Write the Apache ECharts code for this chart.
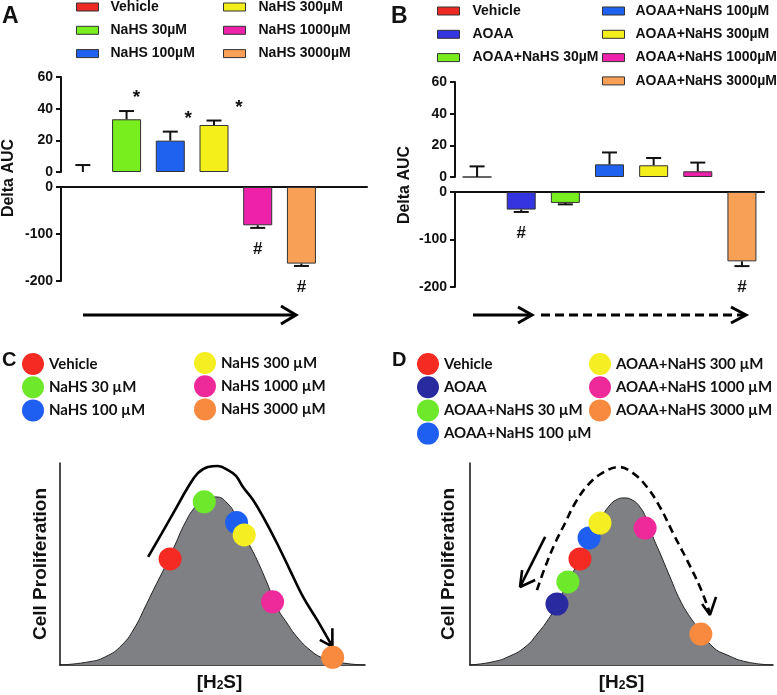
<!DOCTYPE html>
<html><head><meta charset="utf-8">
<script src="https://cdn.jsdelivr.net/npm/echarts@6/dist/echarts.min.js"></script>
<style>html,body{margin:0;padding:0;background:#fff}#c{width:777px;height:695px}</style>
</head><body><div id="c"></div>
<script>
// ---------- Panel A data ----------
const aGroups = ['Vehicle','NaHS 30µM','NaHS 100µM','NaHS 300µM','NaHS 1000µM','NaHS 3000µM'];
const aMeans  = [0, 33.3, 19.8, 29.7, -81.5, -163];
const aErrors = [4.4, 5.2, 5.7, 2.8, 5.5, 5];
const aMarks  = ['', '*', '*', '*', '#', '#'];
// ---------- Panel B data ----------
const bGroups = ['Vehicle','AOAA','AOAA+NaHS 30µM','AOAA+NaHS 100µM','AOAA+NaHS 300µM','AOAA+NaHS 1000µM','AOAA+NaHS 3000µM'];
const bMeans  = [0, -37, -23, 8, 7.4, 3.6, -146];
const bErrors = [6.7, 5, 3, 7.5, 4.6, 5.5, 10];
const bMarks  = ['', '#', '', '', '', '', '#'];
// axis ranges [min, max, interval]
const upperRange = [0, 60, 20];
const lowerRange = [-200, 0, 100];
// ---------- Panel C data ----------
const cGroups = ['Vehicle','NaHS 30 µM','NaHS 100 µM','NaHS 300 µM','NaHS 1000 µM','NaHS 3000 µM'];
const cCurve = [[0,0],[9.2,1.5],[14.8,4.0],[20.3,9.9],[24.6,18.8],[27.9,28.7],[31.1,38.6],[34.4,48.5],[37.7,59.4],[41.0,70.3],[44.3,78.2],[47.5,82.2],[51.1,83.2],[54.8,80.2],[58.0,72.8],[61.3,61.9],[64.6,52.0],[67.9,40.6],[71.1,28.7],[74.4,20.8],[77.7,13.9],[82.0,7.4],[86.2,3.5],[92.8,1.0],[100,0]];
const cDots = [[36.1,52.5],[47.3,80.8],[57.9,70.5],[60.4,64.4],[69.7,31.3],[89.4,3.8]];
const cArrow = [[28.9,53.5],[33.4,65.3],[37.7,76.7],[42.0,88.1],[45.2,95.0],[48.5,98.0],[51.8,98.5],[55.1,96.5],[57.7,93.6],[60.0,88.1],[63.3,81.7],[66.6,73.3],[71.1,60.4],[75.4,47.0],[79.7,33.7],[84.3,22.3],[89.2,9.4]];
const cArrowHead = [[89.3,18.2],[89.3,9.1],[85.2,12.4]];
// ---------- Panel D data ----------
const dGroups = ['Vehicle','AOAA','AOAA+NaHS 30 µM','AOAA+NaHS 100 µM','AOAA+NaHS 300 µM','AOAA+NaHS 1000 µM','AOAA+NaHS 3000 µM'];
const dCurve = [[0,0],[7.3,1.5],[12.5,4.0],[18.2,8.9],[22.4,15.8],[25.7,22.3],[28.1,28.2],[31.4,38.1],[34.7,48.0],[38.0,57.9],[41.3,66.8],[43.9,74.3],[46.2,79.2],[48.2,81.7],[50.8,82.7],[53.5,81.7],[56.1,78.2],[58.4,71.8],[60.4,63.4],[62.7,55.4],[66.0,43.6],[69.3,32.2],[72.6,23.8],[75.9,17.3],[80.2,8.9],[84.8,5.0],[91.4,1.5],[100,0]];
const dDots = [[36.3,52.5],[28.7,30.2],[32.3,41.1],[39.3,62.9],[42.9,70.3],[57.8,67.8],[76.2,15.3]];
const dArrow = [[22.1,37.1],[24.8,48.5],[28.1,60.4],[31.4,70.3],[34.7,80.2],[38.9,89.1],[43.6,95.0],[49.2,98.0],[53.8,95.0],[58.4,88.1],[62.7,78.2],[67.0,65.3],[71.6,52.0],[75.9,38.6],[79.2,25.7]];
const dArrowHead = [[76.6,30.2],[79.2,24.8],[81.2,33.7]];
const dBackArrow = [[24.8,63.4],[16.5,38.6]];
const dBackHead = [[17.2,47.0],[16.5,38.6],[21.5,42.1]];

// ---------- styles ----------
const aColors = ['#ee2a24','#78ee1e','#2062f0','#f4ee1a','#ee22aa','#f8a055'];
const bColors = ['#ee2a24','#3434e0','#78ee1e','#2062f0','#f4ee1a','#ee22aa','#f8a055'];
const cColors = ['#f52a22','#6ee82a','#1e5ef0','#f5ee22','#ee2a9a','#f88a40'];
const dColors = ['#f52a22','#2a2aa0','#6ee82a','#1e5ef0','#f5ee22','#ee2a9a','#f88a40'];
const aMarkShift = [0, 10, 18, 25, 0, 0];
const bMarkShift = [0, 0, 0, 0, 0, 0, 0];
const ARIAL = 'Liberation Sans, Arial, sans-serif';
const BOLD = {fontFamily: ARIAL, fontWeight: 'bold', color: '#111'};
const INK = '#111';

const chart = echarts.init(document.getElementById('c'));

function catAxis(gi, cats, show) {
  return {type:'category', gridIndex:gi, data:cats, show:show,
    axisLine:{show:true, onZero:true, lineStyle:{color:INK, width:2}},
    axisTick:{show:false}, axisLabel:{show:false}, splitLine:{show:false}};
}
function valAxis(gi, r) {
  return {type:'value', gridIndex:gi, min:r[0], max:r[1], interval:r[2],
    axisLine:{show:true, lineStyle:{color:INK, width:2}},
    axisTick:{show:true, length:5, lineStyle:{color:INK, width:2}},
    axisLabel:Object.assign({}, BOLD, {fontSize:14, margin:8}),
    splitLine:{show:false}};
}
function plainAxis(gi, extra) {
  return Object.assign({type:'value', gridIndex:gi, min:0, max:100,
    axisLine:{show:true, onZero:true, lineStyle:{color:INK, width:1.5}},
    axisTick:{show:false}, axisLabel:{show:false}, splitLine:{show:false}}, extra);
}
function bars(groups, means, colors, ax, upper, zeroBar) {
  return groups.map((g, i) => {
    const m = means[i];
    const inUpper = m > 0 || (m === 0 && zeroBar);
    const keep = upper ? inUpper : m < 0;
    return {type:'bar', name:g, xAxisIndex:ax, yAxisIndex:ax, silent:true,
      data: groups.map((_, j) => (j === i && keep) ? m : '-'),
      barWidth:29, barGap:'-100%', z:2,
      itemStyle:{color:colors[i], borderColor:'#333', borderWidth: m === 0 ? 1.5 : 1}};
  });
}
function errBars(means, errs, ax, upper) {
  const data = means.map((m, i) => [i, m, errs[i]]).filter(d => upper ? d[1] >= 0 : d[1] < 0);
  return {type:'custom', xAxisIndex:ax, yAxisIndex:ax, data, encode:{x:0, y:1}, z:3, silent:true,
    renderItem:(p, api) => {
      const i = api.value(0), m = api.value(1), e = api.value(2);
      const dir = m >= 0 ? 1 : -1;
      const p0 = api.coord([i, m]), p1 = api.coord([i, m + dir * e]);
      const hw = 7.5, st = {stroke:INK, lineWidth:2};
      return {type:'group', children:[
        {type:'line', shape:{x1:p0[0], y1:p0[1], x2:p1[0], y2:p1[1]}, style:st},
        {type:'line', shape:{x1:p1[0]-hw, y1:p1[1], x2:p1[0]+hw, y2:p1[1]}, style:st}]};
    }};
}
function marks(means, errs, symbols, shifts, ax, upper) {
  const data = means.map((m, i) => [i, m, errs[i]])
    .filter(d => symbols[d[0]] !== '' && (upper ? d[1] >= 0 : d[1] < 0));
  return {type:'custom', xAxisIndex:ax, yAxisIndex:ax, data, encode:{x:0, y:1}, z:4, silent:true,
    renderItem:(p, api) => {
      const i = api.value(0), m = api.value(1), e = api.value(2);
      const dir = m >= 0 ? 1 : -1;
      const pt = api.coord([i, m + dir * e]);
      const s = symbols[i];
      const star = s === '*';
      return {type:'text', x:pt[0] + shifts[i], y:pt[1] + (star ? -13 : 21),
        style:{text:s, fill:INK, fontFamily:ARIAL, fontWeight:'bold', fontSize: star ? 19 : 17,
          align:'center', verticalAlign:'middle'}};
    }};
}
function dots(groups, pts, colors, ax) {
  return groups.map((g, i) => ({type:'scatter', name:g, xAxisIndex:ax, yAxisIndex:ax, silent:true,
    data:[pts[i]], symbolSize:23, z:5, itemStyle:{color:colors[i], opacity:1}}));
}
function path(data, ax, opts) {
  return Object.assign({type:'line', xAxisIndex:ax, yAxisIndex:ax, data, symbol:'none', silent:true,
    z:3, lineStyle:{color:'#000', width:2.6}}, opts || {});
}
function legendItems(names, groups, colors, icon) {
  return names.map(n => {
    const i = groups.indexOf(n);
    return icon === 'rect'
      ? {name:n, icon:'rect', itemStyle:{color:colors[i], borderColor:'#333', borderWidth:1}}
      : {name:n, icon:'circle', itemStyle:{color:colors[i], borderWidth:0, opacity:1}};
  });
}
const barLegendText = pad => Object.assign({}, BOLD, {fontSize:14, lineHeight:14, padding:[0,0,0,pad]});
const dotLegendText = {fontFamily:'Lato, Open Sans, sans-serif', fontWeight:'bold', fontSize:15, color:'#111', lineHeight:16};
function barLegend(names, groups, colors, left, top, pad) {
  return {left, top, padding:0, orient:'vertical', selectedMode:false, itemWidth:22, itemHeight:8, itemGap:9.3,
    textStyle:barLegendText(pad), data:legendItems(names, groups, colors, 'rect')};
}
function dotLegend(names, groups, colors, left, top) {
  return {left, top, padding:0, orient:'vertical', selectedMode:false, itemWidth:22, itemHeight:22, itemGap:1.2,
    textStyle:dotLegendText, data:legendItems(names, groups, colors, 'circle')};
}

const aCats = aGroups.concat(['']);
const h2s = {rich:{
  a:{fontFamily:ARIAL, fontWeight:'bold', fontSize:19, color:INK, lineHeight:19},
  s:{fontFamily:ARIAL, fontWeight:'bold', fontSize:12, color:INK, lineHeight:12, verticalAlign:'bottom'}}};
const cellName = {fontFamily:ARIAL, fontWeight:'bold', fontSize:19, color:INK};
const curveStyle = {smooth:0.5, z:1, lineStyle:{color:'#222', width:1}, areaStyle:{color:'#7f8083', opacity:1}};

const option = {
  animation:false,
  grid:[
    {left:61, top:77, width:306, height:95},
    {left:61, top:187, width:306, height:94},
    {left:455, top:82, width:309, height:95},
    {left:455, top:192, width:309, height:95},
    {left:60, top:463, width:305, height:202},
    {left:470, top:463, width:303, height:202}
  ],
  xAxis:[
    catAxis(0, aCats, false), catAxis(1, aCats, true),
    catAxis(2, bGroups, false), catAxis(3, bGroups, true),
    plainAxis(4, {name:'{a|[H}{s|2}{a|S]}', nameLocation:'middle', nameGap:8,
      nameTextStyle:Object.assign({padding:[0,0,0,14]}, h2s)}),
    plainAxis(5, {name:'{a|[H}{s|2}{a|S]}', nameLocation:'middle', nameGap:8, nameTextStyle:h2s})
  ],
  yAxis:[
    valAxis(0, upperRange), valAxis(1, lowerRange),
    valAxis(2, upperRange), valAxis(3, lowerRange),
    plainAxis(4, {name:'Cell Proliferation', nameLocation:'middle', nameGap:10, nameTextStyle:cellName}),
    plainAxis(5, {name:'Cell Proliferation', nameLocation:'middle', nameGap:12, nameTextStyle:cellName})
  ],
  legend:[
    barLegend(aGroups.slice(0,3), aGroups, aColors, 76, 0, 7),
    barLegend(aGroups.slice(3), aGroups, aColors, 223, 0, 8),
    barLegend(bGroups.slice(0,3), bGroups, bColors, 437, 4, 8),
    barLegend(bGroups.slice(3), bGroups, bColors, 602, 4, 6),
    dotLegend(cGroups.slice(0,3), cGroups, cColors, 22, 353),
    dotLegend(cGroups.slice(3), cGroups, cColors, 194, 352),
    dotLegend(dGroups.slice(0,4), dGroups, dColors, 417, 353),
    dotLegend(dGroups.slice(4), dGroups, dColors, 589, 353)
  ],
  series:[].concat(
    bars(aGroups, aMeans, aColors, 0, true, false),
    bars(aGroups, aMeans, aColors, 1, false, false),
    [errBars(aMeans, aErrors, 0, true), errBars(aMeans, aErrors, 1, false),
     marks(aMeans, aErrors, aMarks, aMarkShift, 0, true), marks(aMeans, aErrors, aMarks, aMarkShift, 1, false)],
    bars(bGroups, bMeans, bColors, 2, true, true),
    bars(bGroups, bMeans, bColors, 3, false, true),
    [errBars(bMeans, bErrors, 2, true), errBars(bMeans, bErrors, 3, false),
     marks(bMeans, bErrors, bMarks, bMarkShift, 2, true), marks(bMeans, bErrors, bMarks, bMarkShift, 3, false)],
    [path(cCurve, 4, curveStyle), path(cArrow, 4, {smooth:0.4}), path(cArrowHead, 4)],
    dots(cGroups, cDots, cColors, 4),
    [path(dCurve, 5, curveStyle),
     path(dArrow, 5, {smooth:0.4, lineStyle:{color:'#000', width:2.6, type:[8,5]}}),
     path(dArrowHead, 5), path(dBackArrow, 5), path(dBackHead, 5)],
    dots(dGroups, dDots, dColors, 5)
  ),
  graphic:[
    {type:'text', x:2, y:17, style:{text:'A', fill:INK, fontFamily:ARIAL, fontWeight:'bold', fontSize:23, verticalAlign:'middle'}},
    {type:'text', x:391, y:17, style:{text:'B', fill:INK, fontFamily:ARIAL, fontWeight:'bold', fontSize:23, verticalAlign:'middle'}},
    {type:'text', x:2, y:360, style:{text:'C', fill:INK, fontFamily:ARIAL, fontWeight:'bold', fontSize:20, verticalAlign:'middle'}},
    {type:'text', x:392, y:360, style:{text:'D', fill:INK, fontFamily:ARIAL, fontWeight:'bold', fontSize:20, verticalAlign:'middle'}},
    {type:'text', x:9, y:178, rotation:Math.PI/2, style:{text:'Delta AUC', fill:INK, fontFamily:ARIAL, fontWeight:'bold', fontSize:16, align:'center', verticalAlign:'middle'}},
    {type:'text', x:405, y:185, rotation:Math.PI/2, style:{text:'Delta AUC', fill:INK, fontFamily:ARIAL, fontWeight:'bold', fontSize:16, align:'center', verticalAlign:'middle'}},
    {type:'polyline', shape:{points:[[83,315],[295,315]]}, style:{stroke:'#000', lineWidth:3, fill:null}},
    {type:'polyline', shape:{points:[[281,306],[296,315],[281,324]]}, style:{stroke:'#000', lineWidth:3, fill:null}},
    {type:'polyline', shape:{points:[[473,315],[531,315]]}, style:{stroke:'#000', lineWidth:3, fill:null}},
    {type:'polyline', shape:{points:[[518,307],[532,315],[518,323]]}, style:{stroke:'#000', lineWidth:3, fill:null}},
    {type:'polyline', shape:{points:[[541,315],[744,315]]}, style:{stroke:'#000', lineWidth:3, fill:null, lineDash:[9,5]}},
    {type:'polyline', shape:{points:[[731,307],[746,315],[731,323]]}, style:{stroke:'#000', lineWidth:3, fill:null}}
  ]
};
chart.setOption(option);
</script>
</body></html>
